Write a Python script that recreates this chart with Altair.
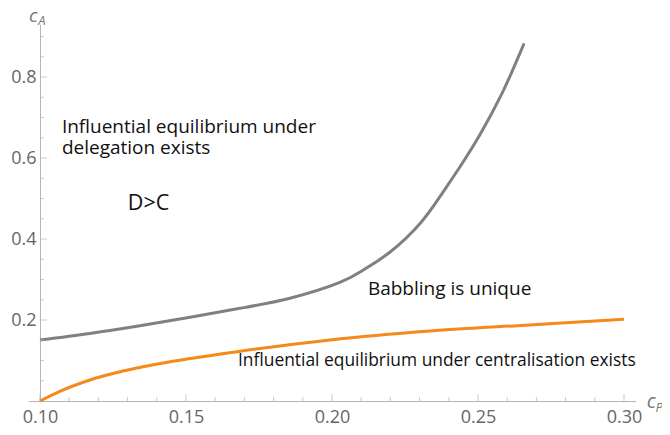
import altair as alt
import pandas as pd

# Curve values
gray_x = [0.100, 0.1171, 0.1342, 0.1514, 0.1685, 0.1856, 0.2027, 0.2113, 0.2199, 0.2301, 0.2370, 0.2438, 0.2507, 0.2575, 0.2621, 0.2658]
gray_y = [0.151, 0.167, 0.186, 0.207, 0.229, 0.254, 0.293, 0.326, 0.368, 0.438, 0.505, 0.578, 0.658, 0.749, 0.821, 0.883]

orange_x = [0.100, 0.1068, 0.1171, 0.1342, 0.1514, 0.1685, 0.1993, 0.2336, 0.2678, 0.300]
orange_y = [0.000, 0.024, 0.052, 0.083, 0.105, 0.123, 0.151, 0.173, 0.188, 0.202]

x_major = [0.10, 0.15, 0.20, 0.25, 0.30]
x_minor = [0.11, 0.12, 0.13, 0.14, 0.16, 0.17, 0.18, 0.19, 0.21, 0.22, 0.23, 0.24, 0.26, 0.27, 0.28, 0.29]
y_major = [0.2, 0.4, 0.6, 0.8]
y_minor = [0.05, 0.1, 0.15, 0.25, 0.3, 0.35, 0.45, 0.5, 0.55, 0.65, 0.7, 0.75, 0.85, 0.9]

labels_big = ["Influential equilibrium under\ndelegation exists", "Babbling is unique"]
labels_big_x = [0.1075, 0.2123]
labels_big_y = [0.6625, 0.2617]
labels_dc = ["D>C"]
labels_dc_x = [0.1301]
labels_dc_y = [0.4716]
labels_small = ["Influential equilibrium under centralisation exists"]
labels_small_x = [0.1678]
labels_small_y = [0.0864]

X_DOMAIN = [0.096, 0.304]
Y_DOMAIN = [0.0, 0.93]
PX_X = 2920.0
PX_Y = 405.0
W = (X_DOMAIN[1] - X_DOMAIN[0]) * PX_X
H = (Y_DOMAIN[1] - Y_DOMAIN[0]) * PX_Y
Y_AXIS_OFFSET = -(0.10 - X_DOMAIN[0]) * PX_X

AXIS_COLOR = "#b4b4b4"
LABEL_COLOR = "#666666"
FONT = "Open Sans"

xs = alt.Scale(domain=X_DOMAIN, nice=False, zero=False)
ys = alt.Scale(domain=Y_DOMAIN, nice=False, zero=False)

x_axis = alt.Axis(values=x_major, format=".2f", title=None, ticks=False, grid=False,
                  domainColor=AXIS_COLOR, labelFont=FONT, labelFontSize=18,
                  labelColor=LABEL_COLOR, labelPadding=7)
y_axis = alt.Axis(values=y_major, format=".1f", title=None, ticks=False, grid=False,
                  domainColor=AXIS_COLOR, labelFont=FONT, labelFontSize=18,
                  labelColor=LABEL_COLOR, labelPadding=4, offset=Y_AXIS_OFFSET)

X = alt.X("x:Q", scale=xs, axis=x_axis)
Y = alt.Y("y:Q", scale=ys, axis=y_axis)

gray_df = pd.DataFrame({"x": gray_x, "y": gray_y})
orange_df = pd.DataFrame({"x": orange_x, "y": orange_y})

gray_line = alt.Chart(gray_df).mark_line(color="#808080", strokeWidth=3, interpolate="natural").encode(x=X, y=Y)
orange_line = alt.Chart(orange_df).mark_line(color="#F5891A", strokeWidth=3, interpolate="monotone").encode(x=X, y=Y)


def xticks(vals, size):
    df = pd.DataFrame({"x": vals, "y": [0.0] * len(vals)})
    return alt.Chart(df).mark_tick(orient="vertical", size=size, thickness=1, color=AXIS_COLOR,
                                   yOffset=-size / 2).encode(x=X, y=Y)


def yticks(vals, size):
    df = pd.DataFrame({"y": vals, "x": [0.10] * len(vals)})
    return alt.Chart(df).mark_tick(orient="horizontal", size=size, thickness=1, color=AXIS_COLOR,
                                   xOffset=size / 2).encode(x=X, y=Y)


def texts(words, tx, ty, size, color="#111111", style="normal", font=FONT):
    df = pd.DataFrame({"x": tx, "y": ty, "t": words})
    return alt.Chart(df).mark_text(align="left", baseline="alphabetic", fontSize=size, font=font,
                                   color=color, fontStyle=style, clip=False, lineBreak="\n",
                                   lineHeight=21).encode(
        x=X, y=Y, text="t:N")


big = texts(labels_big, labels_big_x, labels_big_y, 19)
dc = texts(labels_dc, labels_dc_x, labels_dc_y, 21.5)
small = texts(labels_small, labels_small_x, labels_small_y, 17.4)

# axis titles c_A and c_P (italic, with subscripts)
ca_c = texts(["c"], [0.0962], [0.9358], 19, color="#777777", style="italic")
ca_a = texts(["A"], [0.0994], [0.9285], 13, color="#777777", style="italic")
cp_c = texts(["c"], [0.3078], [-0.017], 20, color="#777777", style="italic")
cp_p = texts(["P"], [0.3108], [-0.027], 13, color="#777777", style="italic")

chart = alt.layer(
    gray_line, orange_line,
    xticks(x_major, 7), xticks(x_minor, 4),
    yticks(y_major, 7), yticks(y_minor, 4),
    big, dc, small, ca_c, ca_a, cp_c, cp_p,
).properties(
    width=W, height=H,
    padding={"left": 20.3, "top": 16.4, "right": 654 - 20.3 - W, "bottom": 419 - 16.4 - H},
    autosize=alt.AutoSizeParams(type="none"),
    background="white",
).configure_view(stroke=None)

chart.save("out.html", embed_options={"renderer": "svg", "actions": False})
